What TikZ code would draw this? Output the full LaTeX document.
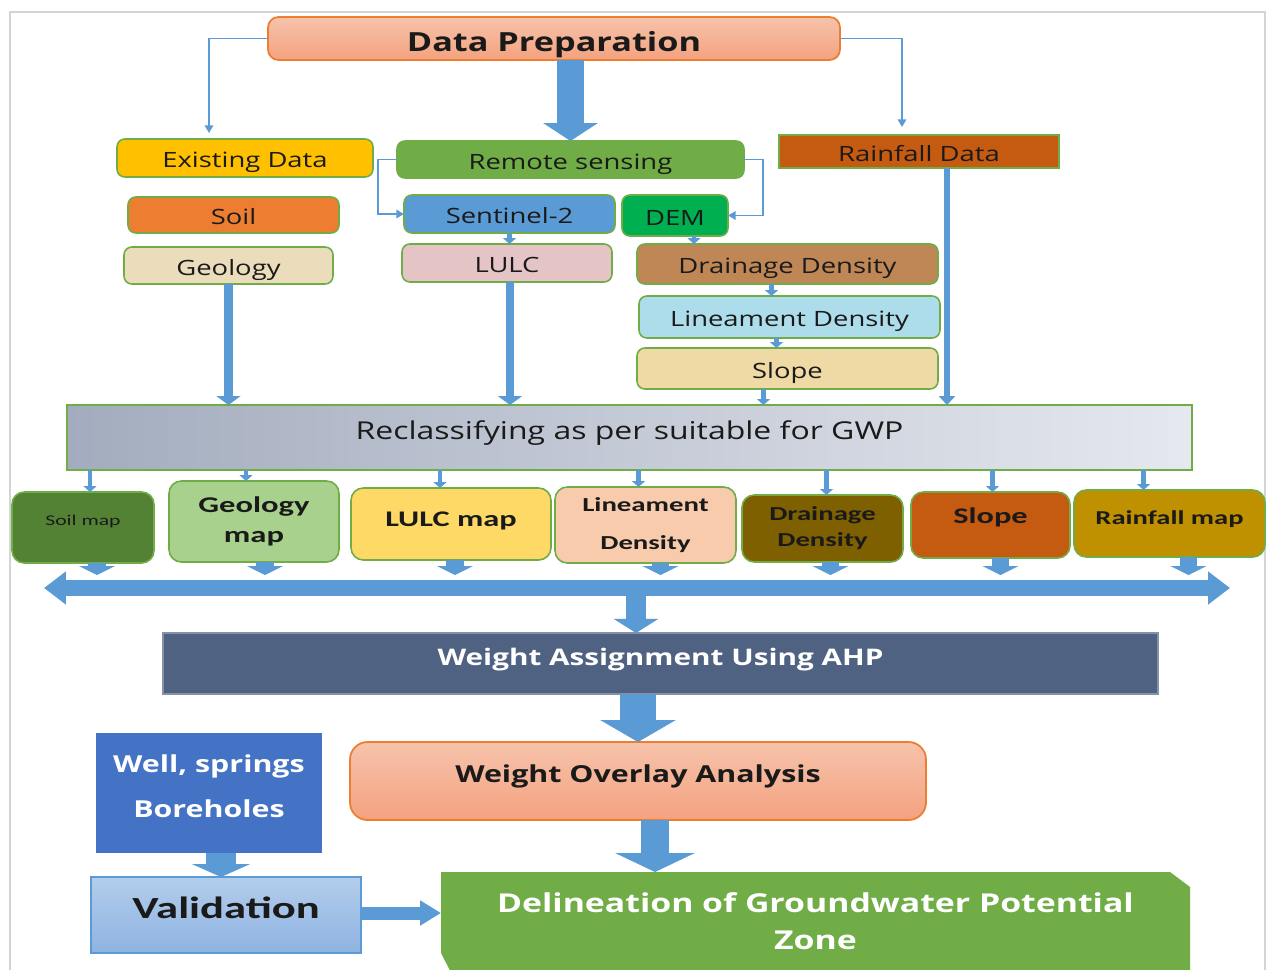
\documentclass[tikz,border=0pt]{standalone}
\usepackage{fontspec}
\setmainfont{Open Sans}[FakeStretch=1.3]
\newfontfamily\carl{Carlito}[FakeStretch=1.45]
\usetikzlibrary{arrows.meta,calc,backgrounds}
\definecolor{ablue}{HTML}{5B9BD5}
\definecolor{bgreen}{HTML}{70AD47}
\definecolor{txt}{HTML}{1A1A1A}
\definecolor{frameg}{HTML}{D4D4D4}
\definecolor{dpTop}{HTML}{F6C3AB}
\definecolor{dpBot}{HTML}{F4A27F}
\definecolor{dpLine}{HTML}{ED7D31}
\definecolor{cEx}{HTML}{FFC000}
\definecolor{cRs}{HTML}{70AD47}
\definecolor{cRf}{HTML}{C55A11}
\definecolor{cSoil}{HTML}{ED7D31}
\definecolor{cGeo}{HTML}{EBDDBB}
\definecolor{cSen}{HTML}{5B9BD5}
\definecolor{cDem}{HTML}{00B050}
\definecolor{cLulc}{HTML}{E5C4C6}
\definecolor{cDd}{HTML}{BF8656}
\definecolor{cLd}{HTML}{ADDDEA}
\definecolor{cSl}{HTML}{EFD9A4}
\definecolor{rcL}{HTML}{A3ACBE}
\definecolor{rcR}{HTML}{E5E8EE}
\definecolor{cM1}{HTML}{548235}
\definecolor{cM2}{HTML}{A9D18E}
\definecolor{cM3}{HTML}{FFD966}
\definecolor{cM4}{HTML}{F8CBAD}
\definecolor{cM5}{HTML}{7F6000}
\definecolor{cM6}{HTML}{C55A11}
\definecolor{cM7}{HTML}{BF9000}
\definecolor{cWa}{HTML}{4F6282}
\definecolor{cWell}{HTML}{4472C4}
\definecolor{valTop}{HTML}{B3CDEB}
\definecolor{valBot}{HTML}{8EB3E2}
\newcommand\bx[7][]{\node[#1, minimum width={(#5-#3)*0.02cm}, minimum height={(#6-#4)*0.02cm}] (#2) at ({(#3+#5)/2},{(#4+#6)/2}) {#7};}
\tikzset{
  base/.style={inner sep=0pt, outer sep=0pt, align=center, text=txt},
  tb/.style={base, draw=bgreen, line width=0.9pt, rounded corners=4.5pt, font=\fontsize{12}{14}\selectfont, text height=11pt, text depth=0pt},
  mb/.style={base, draw=bgreen, line width=0.9pt, rounded corners=7pt},
  ba/.style n args={3}{draw=ablue, line width=#1, -{Triangle[width=#2,length=#3]}},
  sa/.style={ba={2.8pt}{7.4pt}{3.4pt}},
  link/.style={draw=ablue, line width=0.9pt, -{Triangle[width=4.8pt,length=4.3pt]}}
}
\begin{document}
\begin{tikzpicture}[x=0.02cm,y=-0.02cm]
\useasboundingbox (0,0) rectangle (1271,970);
% frame
\draw[frameg, line width=1.3pt] (10,990) -- (10,12) -- (1265,12) -- (1265,990);

% top
\bx[base, draw=dpLine, line width=1pt, rounded corners=6pt, top color=dpTop, bottom color=dpBot, font=\fontsize{15}{18}\selectfont\bfseries, text height=15.3pt, text depth=0pt]{dp}{268}{17}{840}{60}{Data Preparation}
\bx[tb, fill=cEx]{ex}{117}{139}{373}{177}{Existing Data}
\bx[tb, fill=cRs]{rs}{397}{141}{744}{178}{Remote sensing}
\bx[tb, fill=cRf, sharp corners]{rf}{779}{135}{1059}{168}{Rainfall Data}
\bx[tb, fill=cSoil]{soil}{128}{197}{339}{233}{Soil}
\bx[tb, fill=cGeo]{geo}{124}{247}{333}{284}{Geology}
\bx[tb, fill=cSen]{sen}{404}{195}{615}{233}{Sentinel-2}
\bx[tb, fill=cDem]{dem}{622}{195}{728}{236}{DEM}
\bx[tb, fill=cLulc]{lulc}{402}{244}{612}{282}{LULC}
\bx[tb, fill=cDd]{dd}{637}{244}{938}{284}{Drainage Density}
\bx[tb, fill=cLd]{ld}{639}{296}{940}{338}{Lineament Density}
\bx[tb, fill=cSl]{sl}{637}{348}{938}{389}{Slope}
\bx[base, draw=bgreen, line width=0.9pt, left color=rcL, right color=rcR, font=\fontsize{14}{16}\selectfont, text height=10pt, text depth=7.4pt]{rc}{67}{405}{1192}{470}{Reclassifying as per suitable for GWP}

% map boxes
\bx[mb, fill=cM1, font=\carl\fontsize{8.5}{10}\selectfont, text height=6pt, text depth=8.5pt]{m1}{12}{492}{154}{563}{Soil map}
\bx[mb, fill=cM2, font=\carl\fontsize{12.8}{17}\selectfont\bfseries, text depth=2pt]{m2}{169}{481}{339}{562}{Geology\\map}
\bx[mb, fill=cM3, font=\carl\fontsize{12.7}{15}\selectfont\bfseries, text height=8.9pt, text depth=5.9pt]{m3}{351}{488}{551}{560}{LULC map}
\bx[mb, fill=cM4, font=\carl\fontsize{11.3}{21.5}\selectfont\bfseries]{m4}{555}{487}{736}{563}{Lineament\\Density}
\bx[mb, fill=cM5, font=\carl\fontsize{11.3}{14.7}\selectfont\bfseries]{m5}{742}{495}{903}{562}{Drainage\\Density}
\bx[mb, fill=cM6, font=\carl\fontsize{12.7}{15}\selectfont\bfseries, text height=8.8pt, text depth=10.6pt]{m6}{911}{492}{1070}{558}{Slope}
\bx[mb, fill=cM7, font=\carl\fontsize{11.2}{14}\selectfont\bfseries, text height=8pt, text depth=6.9pt]{m7}{1074}{490}{1265}{557}{Rainfall map}

% bottom
\bx[base, fill=cWa, draw=cWa!70!white, line width=0.6pt, text=white, font=\fontsize{13}{16}\selectfont\bfseries, text height=9.8pt, text depth=7.8pt]{wa}{163}{633}{1158}{694}{Weight Assignment Using AHP}
\bx[base, draw=dpLine, line width=1pt, rounded corners=10pt, top color=dpTop, bottom color=dpBot, font=\fontsize{13.3}{16}\selectfont\bfseries, text height=9.8pt, text depth=7.8pt]{wo}{350}{742}{926}{820}{Weight Overlay Analysis}
\bx[base, fill=cWell, text=white, font=\fontsize{13.3}{25.5}\selectfont\bfseries, text depth=8pt]{well}{96}{733}{322}{853}{Well, springs\\Boreholes}
\bx[base, draw=ablue, line width=1pt, top color=valTop, bottom color=valBot, font=\carl\fontsize{17.5}{20}\selectfont\bfseries, text height=12.5pt, text depth=8pt]{val}{91}{877}{361}{953}{Validation}
\bx[base, text=white, font=\fontsize{14.8}{21}\selectfont\bfseries]{dl}{441}{872}{1190}{970}{Delineation of Groundwater Potential\\Zone}
\begin{scope}[on background layer]
\fill[white] (0,0) rectangle (1271,970);
\fill[bgreen] (dl.north west) -- ($(dl.north east)+(-20,0)$) -- ($(dl.north east)+(0,15)$) -- ($(dl.south east)+(0,20)$) -- ($(dl.south west)+(19,20)$) -- ($(dl.south west)+(0,-17)$) -- cycle;
\end{scope}

% thin connectors
\draw[link] (dp.west) -| ($(ex.north)+(-36,-6)$);
\draw[link] (dp.east) -| ($(rf.north)+(-17,-8)$);
\draw[link] (rs.west) -- ++(-19,0) |- (sen.west);
\draw[link] (rs.east) -- ++(19,0) |- (dem.east);

% big arrow
\draw[ba={15.9pt}{30.6pt}{10.2pt}] (dp.south -| rs.north) -- (rs.north);

% small arrows among data boxes
\draw[sa] (sen.south) -- (sen.south |- lulc.north);
\draw[sa] ($(dem.south)+(19,0)$) -- ($(dem.south |- dd.north)+(19,0)$);
\draw[sa] ($(dd.south)+(-16,0)$) -- ($(dd.south |- ld.north)+(-16,0)$);
\draw[sa] ($(ld.south)+(-13,0)$) -- ($(ld.south |- sl.north)+(-13,0)$);
\draw[sa] ($(sl.south)+(-24,0)$) -- ($(sl.south |- rc.north)+(-24,0)$);
\draw[ba={3.4pt}{9pt}{5pt}] ($(rf.south)+(28,0)$) -- ($(rf.south |- rc.north)+(28,0)$);
\draw[ba={5.1pt}{13.6pt}{5.1pt}] (geo.south) -- (geo.south |- rc.north);
\draw[ba={5.1pt}{13.6pt}{5.1pt}] ($(lulc.south)+(3,0)$) -- ($(lulc.south |- rc.north)+(3,0)$);

% reclass to maps
\draw[sa] ($(m1.north |- rc.south)+(7,0)$) -- ($(m1.north)+(7,0)$);
\draw[sa] ($(m2.north |- rc.south)+(-8,0)$) -- ($(m2.north)+(-8,0)$);
\draw[sa] ($(m3.north |- rc.south)+(-11,0)$) -- ($(m3.north)+(-11,0)$);
\draw[sa] ($(m4.north |- rc.south)+(-7,0)$) -- ($(m4.north)+(-7,0)$);
\draw[sa] ($(m5.north |- rc.south)+(4,0)$) -- ($(m5.north)+(4,0)$);
\draw[sa] ($(m6.north |- rc.south)+(2,0)$) -- ($(m6.north)+(2,0)$);
\draw[sa] ($(m7.north |- rc.south)+(-26,0)$) -- ($(m7.north)+(-26,0)$);

% bar
\coordinate (barL) at (44,588);
\coordinate (barR) at (1230,588);
\coordinate (barC) at (636,588);
\draw[ba={11.9pt}{25pt}{8pt}] (barC) -- (barC |- wa.north);
\draw[draw=ablue, line width=9.1pt, {Triangle[width=18.1pt,length=12.5pt]}-{Triangle[width=18.1pt,length=12.5pt]}] (barL) -- (barR);

% maps to bar
\tikzset{mba/.style={ba={10.2pt}{20.4pt}{5.1pt}}}
\draw[mba] ($(m1.south)+(14,0)$) -- ($(m1.south |- barL)+(14,-13)$);
\draw[mba] ($(m2.south)+(11,0)$) -- ($(m2.south |- barL)+(11,-13)$);
\draw[mba] ($(m3.south)+(4,0)$) -- ($(m3.south |- barL)+(4,-13)$);
\draw[mba] ($(m4.south)+(15,0)$) -- ($(m4.south |- barL)+(15,-13)$);
\draw[mba] ($(m5.south)+(8,0)$) -- ($(m5.south |- barL)+(8,-13)$);
\draw[mba] ($(m6.south)+(10,0)$) -- ($(m6.south |- barL)+(10,-13)$);
\draw[mba] ($(m7.south)+(19,0)$) -- ($(m7.south |- barL)+(19,-13)$);

% lower flow
\draw[ba={20.4pt}{42.5pt}{12.5pt}] (wo.north |- wa.south) -- (wo.north);
\draw[ba={15.9pt}{45pt}{10.8pt}] ($(wo.south)+(17,0)$) -- ($(wo.south |- dl.north)+(17,0)$);
\draw[ba={17pt}{33pt}{7.4pt}] ($(well.south)+(12,0)$) -- ($(well.south |- val.north)+(12,0)$);
\draw[ba={7.4pt}{13.6pt}{11.9pt}] ($(val.east)+(0,-2)$) -- ($(val.east -| dl.west)+(0,-2)$);
\end{tikzpicture}
\end{document}
